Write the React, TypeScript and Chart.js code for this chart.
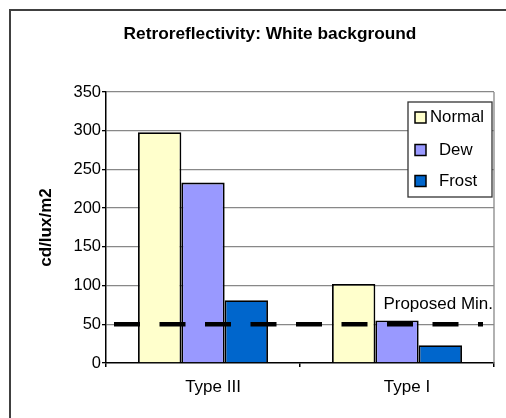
import React, { useEffect, useRef } from "react";
import { Chart, registerables } from "chart.js";

Chart.register(...registerables);

const TITLE = "Retroreflectivity: White background";
const Y_TITLE = "cd/lux/m2";
const CATEGORIES = ["Type III", "Type I"];
const SERIES_NAMES = ["Normal", "Dew", "Frost"];
const NORMAL = [298, 102];
const DEW = [233, 55];
const FROST = [81, 23];
const SERIES_COLORS = ["#FFFFCC", "#9999FF", "#0066CC"];
const PROPOSED_MIN = 50;
const PROPOSED_LABEL = "Proposed Min.";
const Y_MIN = 0;
const Y_MAX = 350;
const Y_STEP = 50;

const FONT = "'Liberation Sans', Arial, sans-serif";

const framePlugin = {
  id: "frame",
  beforeDraw(chart: any) {
    const { ctx } = chart;
    ctx.save();
    ctx.fillStyle = "#ffffff";
    ctx.fillRect(0, 0, chart.width, chart.height);
    ctx.strokeStyle = "#404040";
    ctx.lineWidth = 2;
    ctx.beginPath();
    ctx.moveTo(10, chart.height);
    ctx.lineTo(10, 10);
    ctx.lineTo(chart.width, 10);
    ctx.stroke();
    ctx.fillStyle = "#000000";
    ctx.font = `bold 17.3px ${FONT}`;
    ctx.textAlign = "center";
    ctx.textBaseline = "middle";
    ctx.fillText(TITLE, 270, 34);
    ctx.restore();
  },
  beforeDatasetsDraw(chart: any) {
    const { ctx, chartArea } = chart;
    ctx.save();
    ctx.strokeStyle = "#888888";
    ctx.lineWidth = 1.3;
    ctx.beginPath();
    ctx.moveTo(chartArea.right, chartArea.top);
    ctx.lineTo(chartArea.right, chartArea.bottom);
    ctx.stroke();
    ctx.restore();
  },
};

const minLinePlugin = {
  id: "minLine",
  afterDatasetsDraw(chart: any) {
    const { ctx, chartArea, scales } = chart;
    const y = scales.y.getPixelForValue(PROPOSED_MIN);
    ctx.save();
    ctx.strokeStyle = "#000000";
    ctx.lineWidth = 4.5;
    ctx.setLineDash([26, 19.5]);
    ctx.beginPath();
    ctx.moveTo(chartArea.left + 8, y);
    ctx.lineTo(chartArea.right - 11, y);
    ctx.stroke();
    ctx.setLineDash([]);
    ctx.fillStyle = "#000000";
    ctx.font = `17px ${FONT}`;
    ctx.textAlign = "right";
    ctx.textBaseline = "middle";
    ctx.fillText(PROPOSED_LABEL, chartArea.right - 1, y - 19.5);
    ctx.restore();
  },
};

const legendPlugin = {
  id: "boxLegend",
  afterDraw(chart: any) {
    const { ctx } = chart;
    const bx = 408;
    const by = 102;
    const bw = 84;
    const bh = 95;
    ctx.save();
    ctx.fillStyle = "#ffffff";
    ctx.fillRect(bx, by, bw, bh);
    ctx.strokeStyle = "#333333";
    ctx.lineWidth = 1.3;
    ctx.strokeRect(bx, by, bw, bh);
    ctx.font = `16.8px ${FONT}`;
    ctx.textBaseline = "middle";
    ctx.textAlign = "left";
    const rows = [117.5, 150, 181];
    const textX = [430, 439, 439];
    chart.data.datasets.forEach((ds: any, i: number) => {
      const cy = rows[i];
      ctx.fillStyle = ds.backgroundColor;
      ctx.fillRect(415, cy - 5.5, 11, 11);
      ctx.strokeStyle = "#000000";
      ctx.lineWidth = 1.5;
      ctx.strokeRect(415, cy - 5.5, 11, 11);
      ctx.fillStyle = "#000000";
      ctx.fillText(ds.label, textX[i], cy);
    });
    ctx.restore();
  },
};

export default function App() {
  const ref = useRef<HTMLCanvasElement | null>(null);

  useEffect(() => {
    document.body.style.margin = "0";
    if (!ref.current) return;
    const values = [NORMAL, DEW, FROST];
    const chart = new Chart(ref.current, {
      type: "bar",
      data: {
        labels: CATEGORIES,
        datasets: SERIES_NAMES.map((name, i) => ({
          label: name,
          data: values[i],
          backgroundColor: SERIES_COLORS[i],
          borderColor: "#000000",
          borderWidth: 1.8,
          categoryPercentage: 0.67,
          barPercentage: 1.0,
        })),
      },
      options: {
        animation: false,
        responsive: true,
        maintainAspectRatio: false,
        layout: { padding: { left: 0, right: 12, top: 92, bottom: 0 } },
        plugins: {
          legend: { display: false },
          tooltip: { enabled: false },
          title: { display: false },
        },
        scales: {
          x: {
            offset: true,
            grid: {
              display: true,
              drawOnChartArea: false,
              drawTicks: true,
              tickLength: 4,
              color: "#000000",
              tickColor: "#000000",
              lineWidth: 1.5,
            },
            border: { display: true, color: "#000000", width: 1.5 },
            ticks: {
              color: "#000000",
              font: { family: FONT, size: 17 },
              padding: 10,
              labelOffset: 10,
            },
            afterFit: (scale: any) => {
              scale.height = 55;
            },
          },
          y: {
            min: Y_MIN,
            max: Y_MAX,
            grid: {
              color: (c: any) => (c.tick && c.tick.value === 0 ? "rgba(0,0,0,0)" : "#888888"),
              tickColor: "#000000",
              lineWidth: 1.3,
              tickLength: 4,
            },
            border: { display: true, color: "#000000", width: 1.5 },
            ticks: {
              stepSize: Y_STEP,
              color: "#000000",
              font: { family: FONT, size: 16.5 },
              padding: 1,
            },
            title: {
              display: true,
              text: Y_TITLE,
              color: "#000000",
              font: { family: FONT, size: 17, weight: "bold" },
              padding: { top: 35.8, bottom: 0 },
            },
            afterFit: (scale: any) => {
              scale.width = 106;
            },
          },
        },
      },
      plugins: [framePlugin, minLinePlugin, legendPlugin],
    });
    return () => chart.destroy();
  }, []);

  return (
    <div style={{ width: 506, height: 418, position: "relative" }}>
      <canvas ref={ref} />
    </div>
  );
}
